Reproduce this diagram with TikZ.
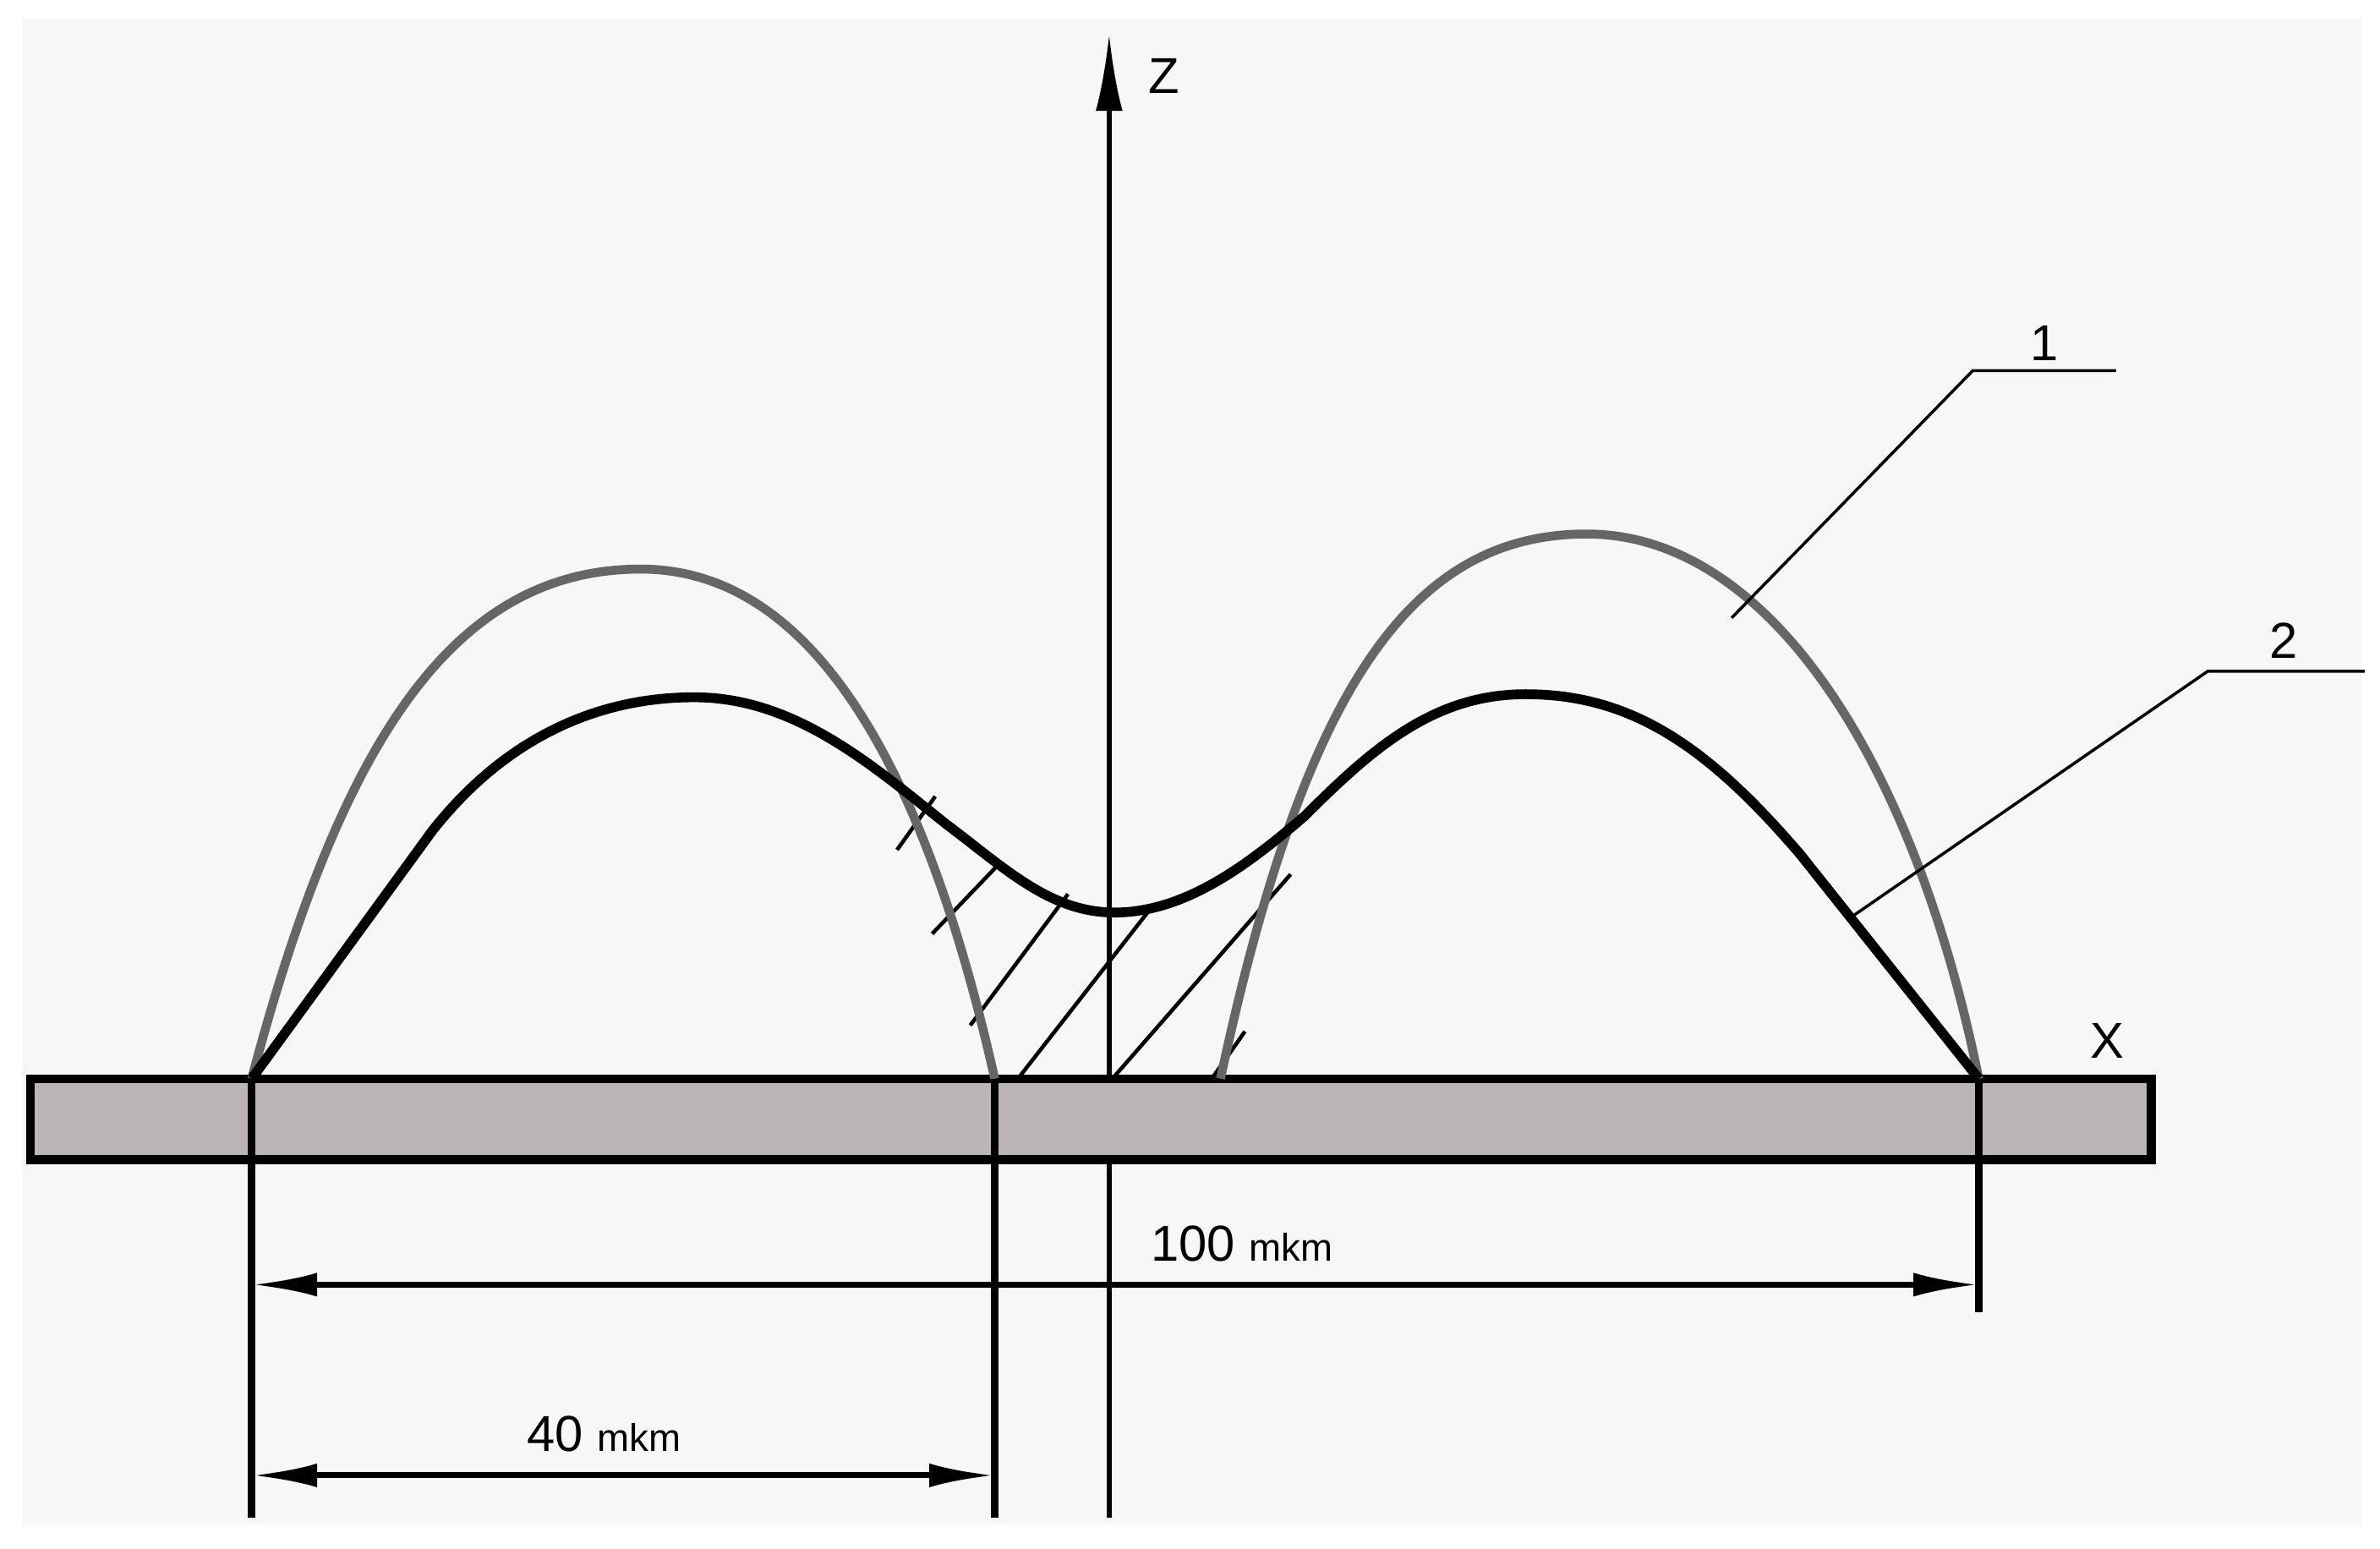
\documentclass[tikz,border=0pt]{standalone}
\usepackage{fontspec}
\setmainfont{Liberation Sans}
\usetikzlibrary{arrows.meta}
\begin{document}
\begin{tikzpicture}[x=0.01805cm,y=-0.01805cm,
  gcurve/.style={draw=black!60,line width=3pt},
  bcurve/.style={draw=black,line width=3.3pt,line join=round},
  ext/.style={line width=2.6pt},
  dim/.style={line width=2pt,{Latex[length=22pt,width=8pt]}-{Latex[length=22pt,width=8pt]}},
  hatch/.style={line width=1.3pt},
  lbl/.style={font=\fontsize{17}{17}\selectfont},
  lead/.style={line width=1pt}]
\useasboundingbox (0,0) rectangle (1560,1015);
\fill[white] (0,0) rectangle (1560,1015);
\fill[black!3] (15,12) rectangle (1548,1000);
\coordinate (A) at (165,707); \coordinate (B) at (652,707);
\coordinate (C) at (800,707); \coordinate (D) at (1297,707);
% axis
\coordinate (zb) at (727,995); \coordinate (zt) at (727,22);
\draw[line width=1.8pt,-{Latex[length=26pt,width=9pt]}] (zb) -- (zt);
\node[lbl] (zl) at (763,50) {Z};
\node[lbl] (xl) at (1381,682) {X};
% bar
\draw[fill={rgb,255:red,187;green,181;blue,181},line width=3pt] (20,707) rectangle (1410,760);
% hatch
\draw[hatch] (588,557) -- (613,522);
\draw[hatch] (611,612) -- (656,565);
\draw[hatch] (636,672) -- (700,586);
\draw[hatch] (668,706) -- (753,597);
\draw[hatch] (730,706) -- (846,573);
\draw[hatch] (795,706) -- (816,676);
% gray curves
\draw[gcurve] (A) .. controls (225,480) and (300,373) .. (420,373) .. controls (540,373) and (610,520) .. (B);
\draw[gcurve] (C) .. controls (855,450) and (925,350) .. (1040,350) .. controls (1160,350) and (1255,500) .. (D);
% black curve
\draw[bcurve] (A) -- (283,545) .. controls (330,485) and (390,457) .. (455,457)
  .. controls (520,457) and (570,500) .. (620,540)
  .. controls (660,570) and (690,600) .. (735,598)
  .. controls (780,596) and (820,565) .. (855,535)
  .. controls (900,490) and (940,455) .. (1000,455)
  .. controls (1070,455) and (1120,490) .. (1180,560) -- (D);
% extension lines
\draw[ext] (A) -- (165,995);
\draw[ext] (B) -- (652,995);
\draw[ext] (D) -- (1297,860);
% dimensions
\coordinate (d1a) at (165,842); \coordinate (d1b) at (1297,842);
\draw[dim] (d1a) -- (d1b);
\node[lbl] (l100) at (814,815) {100 {\fontsize{13}{13}\selectfont mkm}};
\coordinate (d2a) at (165,967); \coordinate (d2b) at (652,967);
\draw[dim] (d2a) -- (d2b);
\node[lbl] (l40) at (396,940) {40 {\fontsize{13}{13}\selectfont mkm}};
% leaders
\node[lbl] (n1) at (1340,225) {1};
\node[lbl] (n2) at (1497,420) {2};
\draw[lead] (1135,405) -- (1293,243) -- (1387,243);
\draw[lead] (1215,600) -- (1447,440) -- (1550,440);
\end{tikzpicture}
\end{document}
